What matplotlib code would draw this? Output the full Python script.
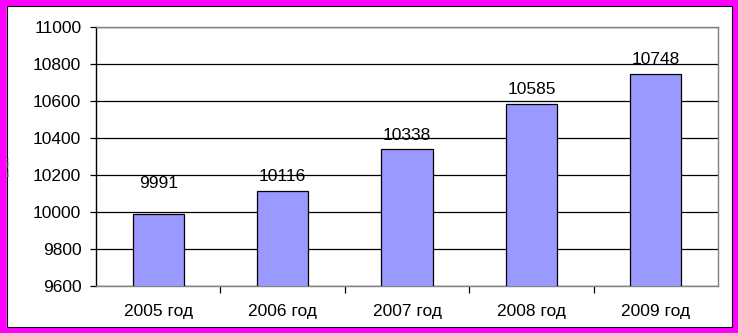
import matplotlib.pyplot as plt
from matplotlib.patches import Rectangle

plt.rcParams['font.family'] = ['Liberation Sans', 'DejaVu Sans']

# Data
years = ['2005 год', '2006 год', '2007 год', '2008 год', '2009 год']
values = [9991, 10116, 10338, 10585, 10748]
label_offsets = [16, 5, 5, 5, 5]  # points above the bar top

fig = plt.figure(figsize=(7.38, 3.33), dpi=100)

# magenta frame around the whole picture
fig.patches.append(Rectangle((0, 0), 1, 1, transform=fig.transFigure,
                             facecolor='none', edgecolor='#FF00FF', linewidth=9))
fig.patches.append(Rectangle((0.0095, 0.018), 0.982, 0.963, transform=fig.transFigure,
                             facecolor='none', edgecolor='black', linewidth=0.8))

ax = fig.add_axes([0.130, 0.141, 0.843, 0.778])
x = list(range(len(years)))
bars = ax.bar(x, values, width=0.41, color='#9999FF', edgecolor='black',
              linewidth=0.9, zorder=3, bottom=0)

ax.set_ylim(9600, 11000)
ax.set_xlim(-0.5, len(years) - 0.5)
ax.set_yticks(range(9600, 11001, 200))
ax.yaxis.grid(True, color='black', linewidth=0.9, zorder=0)
ax.set_axisbelow(True)

ax.set_xticks(x)
ax.set_xticklabels(years, fontsize=12.5)
ax.tick_params(axis='x', length=0, pad=13)
ax.set_xticks([i + 0.5 for i in x[:-1]], minor=True)
ax.tick_params(axis='x', which='minor', length=5, color='black', width=0.9)
ax.tick_params(axis='y', labelsize=12.5, length=4.5, width=0.9, pad=6)

ax.spines['left'].set_color('black')
ax.spines['bottom'].set_color('#808080')
ax.spines['top'].set_color('#808080')
ax.spines['right'].set_color('#808080')
for s in ax.spines.values():
    s.set_linewidth(1.0)

for b, v, off in zip(bars, values, label_offsets):
    ax.annotate(str(v), (b.get_x() + b.get_width() / 2, v),
                xytext=(0, off), textcoords='offset points',
                ha='center', va='bottom', fontsize=12.5)

fig.text(0.012, 0.5, 'тыс.чел.', rotation=90, fontsize=4, color='#808080',
         ha='center', va='center')

fig.savefig('out.png', dpi=100)
